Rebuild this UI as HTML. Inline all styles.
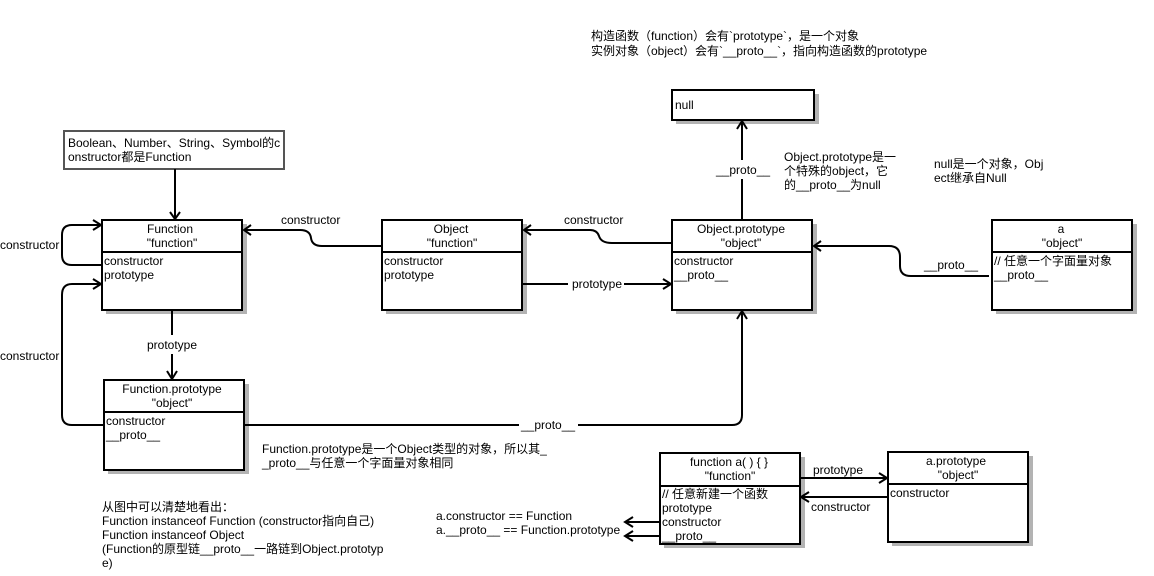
<!DOCTYPE html>
<html><head><meta charset="utf-8">
<style>
html,body{margin:0;padding:0;background:#fff;width:1154px;height:576px;overflow:hidden}
svg{display:block;filter:blur(0.3px)}
text{font-family:"Liberation Sans","Noto Sans CJK SC",sans-serif;font-size:12px;fill:#000}
.m{text-anchor:middle}
.b{fill:#fff;stroke:#000;stroke-width:2}
.s{fill:#b3b3b3}
.c{fill:none;stroke:#000;stroke-width:2}
.a{fill:none;stroke:#000;stroke-width:2}
.t{fill:none;stroke:#b3b3b3;stroke-width:1}
</style></head>
<body>
<svg width="1154" height="576" viewBox="0 0 1154 576" xmlns="http://www.w3.org/2000/svg">
<!-- shadows -->
<rect class="s" x="106" y="224" width="141" height="90"/>
<rect class="s" x="108" y="384" width="141" height="90"/>
<rect class="s" x="386" y="224" width="141" height="90"/>
<rect class="s" x="676" y="224" width="141" height="90"/>
<rect class="s" x="676" y="94" width="143" height="30"/>
<rect class="s" x="996" y="224" width="141" height="90"/>
<rect class="s" x="664" y="457" width="141" height="91"/>
<rect class="s" x="892" y="456" width="141" height="90"/>

<!-- boxes -->
<rect x="64" y="131" width="220" height="38" fill="#fff" stroke="#555" stroke-width="2"/>
<rect class="b" x="102" y="220" width="140" height="90"/><path class="c" d="M102 252H242"/>
<rect class="b" x="104" y="380" width="140" height="90"/><path class="c" d="M104 412H244"/>
<rect class="b" x="382" y="220" width="140" height="90"/><path class="c" d="M382 252H522"/>
<rect class="b" x="672" y="220" width="140" height="90"/><path class="c" d="M672 252H812"/>
<rect class="b" x="672" y="90" width="142" height="30"/>
<rect class="b" x="992" y="220" width="140" height="90"/><path class="c" d="M992 252H1132"/>
<rect class="b" x="660" y="453" width="140" height="91"/><path class="c" d="M660 486H800"/>
<rect class="b" x="888" y="452" width="140" height="90"/><path class="c" d="M888 484H1028"/>

<!-- faint divider echoes across the shadow -->
<path class="t" stroke-opacity="0.6" d="M243 256.500H247M245 416.500H249M523 256.500H527M813 256.500H817M1133 256.500H1137M801 489.500H805M1029 487.500H1033"/>

<!-- connectors -->
<path class="c" d="M175 169V218"/><path class="a" d="M170 212L175 219L180 212"/>
<path class="c" d="M102 265H72Q62 265 62 255V235Q62 225 72 225H100"/><path class="a" d="M93 220L101 225L93 230"/>
<path class="c" d="M104 425H72Q62 425 62 415V295Q62 284 72 284H100"/><path class="a" d="M93 279L101 284L93 289"/>
<path class="c" d="M172 310V335M172 354V378"/><path class="a" d="M167 371L172 379L177 371"/>
<path class="c" d="M382 246H322Q312 246 311 238Q310 230 300 230H245"/><path class="a" d="M251 225L244 230L251 235"/>
<path class="c" d="M672 243H612Q601 243 599 236Q597 230 590 230H525"/><path class="a" d="M531 225L524 230L531 235"/>
<path class="c" d="M522 284H568M624 284H670"/><path class="a" d="M663 279L671 284L663 289"/>
<path class="c" d="M742 220V179M742 160V122"/><path class="a" d="M737 129L742 121L747 129"/>
<path class="c" d="M244 425H519M578 425H732Q742 425 742 415V312"/><path class="a" d="M737 319L742 311L747 319"/>
<path class="c" d="M989 276H911Q900 276 900 266V257Q900 246 889 246H815"/><path class="a" d="M821 241L814 246L821 251"/>
<path class="c" d="M660 522H626"/><path class="a" d="M633 517L625 522L633 527"/>
<path class="c" d="M660 536H626"/><path class="a" d="M633 531L625 536L633 541"/>
<path class="c" d="M800 478H886"/><path class="a" d="M879 473L887 478L879 483"/>
<path class="c" d="M888 497H802"/><path class="a" d="M809 492L801 497L809 502"/>

<!-- box text -->
<text x="68" y="147">Boolean、Number、String、Symbol的c</text>
<text x="68" y="161">onstructor都是Function</text>

<text class="m" x="170" y="233">Function</text><text class="m" x="172" y="247">"function"</text>
<text x="104" y="265">constructor</text><text x="104" y="279">prototype</text>

<text class="m" x="172" y="393">Function.prototype</text><text class="m" x="172" y="407">"object"</text>
<text x="106" y="425">constructor</text><text x="106" y="439">__proto__</text>

<text class="m" x="451" y="233">Object</text><text class="m" x="452" y="247">"function"</text>
<text x="384" y="265">constructor</text><text x="384" y="279">prototype</text>

<text class="m" x="741" y="233">Object.prototype</text><text class="m" x="741" y="247">"object"</text>
<text x="674" y="265">constructor</text><text x="674" y="279">__proto__</text>

<text x="675" y="109">null</text>

<text class="m" x="1061" y="233">a</text><text class="m" x="1062" y="247">"object"</text>
<text x="994" y="265">// 任意一个字面量对象</text><text x="994" y="279">__proto__</text>

<text class="m" x="729" y="466">function a( ) { }</text><text class="m" x="730" y="480">"function"</text>
<text x="662" y="498">// 任意新建一个函数</text>
<text x="662" y="512">prototype</text><text x="662" y="526">constructor</text><text x="662" y="540">__proto__</text>

<text class="m" x="956" y="465">a.prototype</text><text class="m" x="958" y="479">"object"</text>
<text x="890" y="497">constructor</text>

<!-- connector labels -->
<text x="0" y="249">constructor</text>
<text x="0" y="360">constructor</text>
<text x="147" y="349">prototype</text>
<text x="281" y="224">constructor</text>
<text x="564" y="224">constructor</text>
<text x="572" y="288">prototype</text>
<text x="716" y="174">__proto__</text>
<text x="924" y="269">__proto__</text>
<text x="521" y="429">__proto__</text>
<text x="813" y="474">prototype</text>
<text x="811" y="511">constructor</text>

<!-- notes -->
<text x="591" y="40">构造函数（function）会有`prototype`，是一个对象</text>
<text x="591" y="55">实例对象（object）会有`__proto__`，指向构造函数的prototype</text>
<text x="784" y="161">Object.prototype是一</text>
<text x="784" y="175">个特殊的object，它</text>
<text x="784" y="189">的__proto__为null</text>
<text x="934" y="168">null是一个对象，Obj</text>
<text x="934" y="182">ect继承自Null</text>
<text x="262" y="453">Function.prototype是一个Object类型的对象，所以其_</text>
<text x="262" y="467">_proto__与任意一个字面量对象相同</text>
<text x="436" y="520">a.constructor == Function</text>
<text x="436" y="534">a.__proto__ == Function.prototype</text>
<text x="102" y="511">从图中可以清楚地看出：</text>
<text x="102" y="525">Function instanceof Function (constructor指向自己)</text>
<text x="102" y="539">Function instanceof Object</text>
<text x="102" y="553">(Function的原型链__proto__一路链到Object.prototyp</text>
<text x="102" y="567">e)</text>
</svg>
</body></html>
